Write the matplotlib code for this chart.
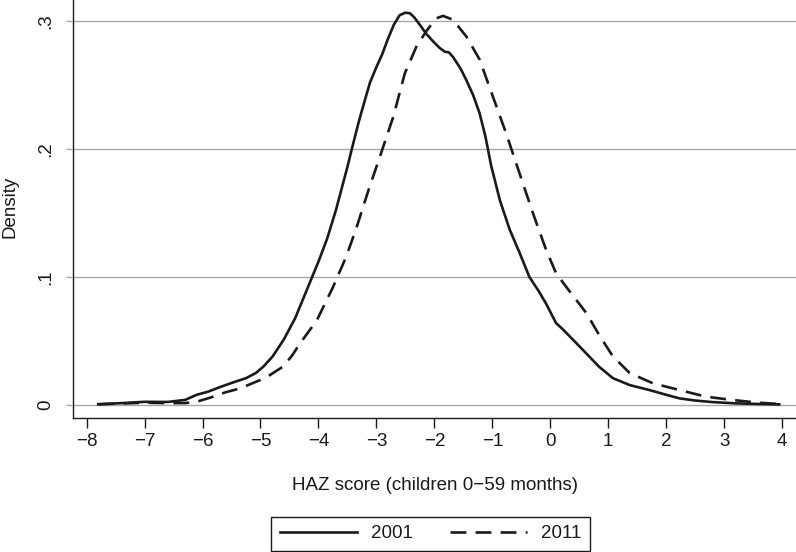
import matplotlib
matplotlib.use("Agg")
import matplotlib.pyplot as plt
from matplotlib.lines import Line2D

plt.rcParams['font.family'] = ['Liberation Sans', 'DejaVu Sans']

# kernel density of HAZ score
haz_2001 = [-7.8, -7.4, -7.0, -6.6, -6.3, -6.1, -5.9, -5.7, -5.45, -5.25, -5.08,
            -4.95, -4.79, -4.6, -4.4, -4.2, -4.0, -3.85, -3.7, -3.5, -3.43, -3.3,
            -3.2, -3.11, -3.0, -2.9, -2.81, -2.7, -2.6, -2.5, -2.42, -2.35, -2.25,
            -2.14, -2.02, -1.91, -1.82, -1.75, -1.68, -1.55, -1.45, -1.33, -1.22,
            -1.12, -1.02, -0.87, -0.70, -0.53, -0.36, -0.2, -0.07, 0.10, 0.22,
            0.50, 0.84, 1.08, 1.37, 1.71, 2.0, 2.23, 2.5, 2.80, 3.2, 3.6, 3.95]
dens_2001 = [0.0006, 0.0015, 0.0025, 0.0024, 0.004, 0.008, 0.0105, 0.014, 0.018,
             0.021, 0.025, 0.030, 0.038, 0.051, 0.068, 0.090, 0.112, 0.130, 0.152,
             0.186, 0.199, 0.222, 0.238, 0.252, 0.264, 0.274, 0.285, 0.297,
             0.3045, 0.3065, 0.306, 0.303, 0.297, 0.290, 0.284, 0.279, 0.276,
             0.2755, 0.272, 0.263, 0.254, 0.242, 0.228, 0.210, 0.187, 0.160,
             0.137, 0.119, 0.100, 0.089, 0.079, 0.064, 0.059, 0.046, 0.030,
             0.021, 0.0156, 0.0117, 0.008, 0.0052, 0.0035, 0.0023, 0.0013,
             0.0008, 0.0005]

haz_2011 = [-7.8, -7.4, -7.0, -6.6, -6.3, -6.1, -5.85, -5.6, -5.35, -5.14, -4.9,
            -4.75, -4.61, -4.45, -4.32, -4.03, -3.75, -3.52, -3.34, -3.15, -2.94,
            -2.71, -2.51, -2.31, -2.14, -1.97, -1.85, -1.68, -1.45, -1.22, -0.99,
            -0.76, -0.59, -0.30, -0.07, 0.10, 0.28, 0.62, 0.84, 1.08, 1.37, 1.77,
            2.23, 2.69, 3.15, 3.55, 3.95]
dens_2011 = [0.0006, 0.0012, 0.0018, 0.0015, 0.0015, 0.0026, 0.006, 0.010, 0.013,
             0.017, 0.0215, 0.026, 0.030, 0.039, 0.048, 0.066, 0.092, 0.116,
             0.139, 0.166, 0.194, 0.225, 0.259, 0.280, 0.292, 0.302, 0.304,
             0.301, 0.288, 0.270, 0.241, 0.212, 0.189, 0.150, 0.121, 0.103,
             0.092, 0.072, 0.055, 0.038, 0.025, 0.017, 0.0117, 0.0065, 0.0039,
             0.002, 0.0008]

x_ticks = list(range(-8, 5))
y_ticks = [0, 0.1, 0.2, 0.3]
y_labels = ["0", ".1", ".2", ".3"]
years = ["2001", "2011"]

fig = plt.figure(figsize=(7.96, 5.52), dpi=100)
ax = fig.add_axes([73.3 / 796, 134.3 / 552, 1 - 73.3 / 796, 1 - 134.3 / 552])

ink = "#1a1a1a"
fs = 13.5
ax.plot(haz_2001, dens_2001, color=ink, lw=1.9, solid_joinstyle="round")
ax.plot(haz_2011, dens_2011, color=ink, lw=1.9, dashes=(6, 3.5))

ax.set_xlim(-8.23, 4.24)
ax.set_ylim(-0.0099, 0.3164)
ax.set_xticks(x_ticks)
ax.set_yticks(y_ticks)
ax.set_yticklabels(y_labels, rotation=90, va="center")
ax.grid(axis="y", color="#a8a8a8", lw=1.0)
ax.set_axisbelow(True)

for s in ["top", "right"]:
    ax.spines[s].set_visible(False)
for s in ["left", "bottom"]:
    ax.spines[s].set_color(ink)
    ax.spines[s].set_linewidth(1.0)

ax.tick_params(axis="x", direction="out", length=7.2, width=1.0, color=ink,
               labelsize=fs, labelcolor=ink, pad=4)
ax.tick_params(axis="y", direction="out", length=5, width=1.0, color="#a8a8a8",
               labelsize=fs, labelcolor=ink, pad=9)

fig.text(10 / 796, 1 - 207 / 552, "Density", rotation=90, ha="center",
         va="center", fontsize=fs, color=ink)
fig.text(434.7 / 796, 1 - 490 / 552, "HAZ score (children 0\u221259 months)",
         ha="center", va="baseline", fontsize=fs, color=ink)

handles = [Line2D([], [], color=ink, lw=1.9),
           Line2D([], [], color=ink, lw=1.9, dashes=(6, 3.5))]
leg = fig.legend(handles, years, loc="lower center", ncol=2,
                 bbox_to_anchor=(430.5 / 796, 1.5 / 552), fontsize=fs,
                 handlelength=4.1, handletextpad=0.75, columnspacing=2.0,
                 borderpad=0.45, borderaxespad=0, fancybox=False,
                 framealpha=1, edgecolor=ink, labelcolor=ink)
leg.get_frame().set_linewidth(1.0)

fig.savefig("out.png", dpi=100)
